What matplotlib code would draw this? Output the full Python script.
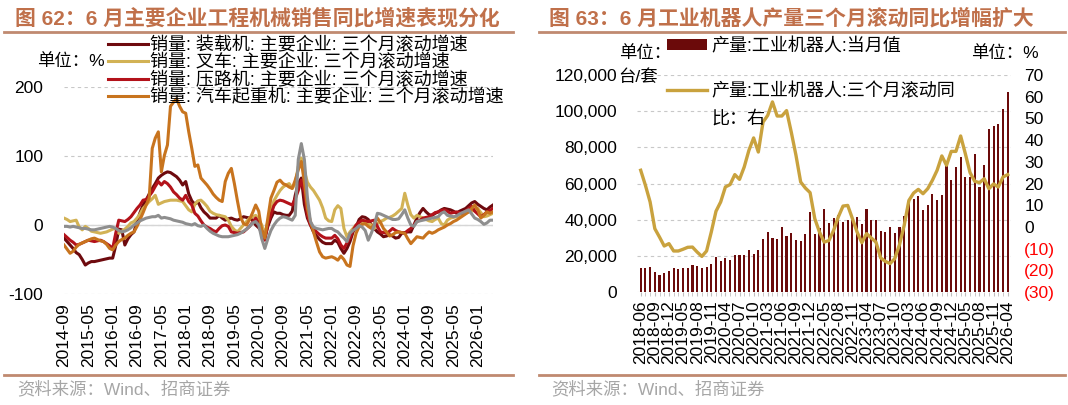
import matplotlib
matplotlib.use('Agg')
import matplotlib.pyplot as plt
from matplotlib.lines import Line2D
from matplotlib.ticker import FixedLocator

plt.rcParams['font.family'] = ['Liberation Sans', 'Noto Sans CJK SC', 'DejaVu Sans']
plt.rcParams['axes.unicode_minus'] = False

# ---------------- data: left chart (monthly, 2014-09 .. 2026-06) ----------------
left_dates = [f'{2014 + (8 + i) // 12}-{(8 + i) % 12 + 1:02d}' for i in range(142)]

loader = [-19, -24, -29, -34, -40, -43, -50, -58, -55, -53,
          -53, -52, -51, -50, -49, -48, -48, -30, -6, -7,
          -29, -20, -14, -10, 5, 18, 29, 36, 45, 53,
          60, 68, 72, 75, 77, 76, 73, 70, 65, 58,
          63, 45, 35, 30, 34, 25, 19, 15, 10, 10,
          10, 14, 10, 7, 9, 10, 8, 7, 9, 12,
          11, 10, 7, 0, -4, -10, -19, -2, 10, 19,
          17, 17, 15, 14, 14, 20, 43, 60, 68, 30,
          10, 0, -10, -16, -21, -25, -27, -27, -27, -22,
          -25, -34, -41, -34, -24, -10, -3, 8, 12, 11,
          8, 0, -5, -10, -13, -17, -16, -14, -16, -19,
          -18, -12, -11, -10, -10, 0, 10, 18, 24, 19,
          15, 14, 17, 19, 22, 24, 23, 22, 20, 17,
          20, 22, 24, 28, 32, 34, 30, 27, 24, 22,
          26, 29]

forklift = [10, 8, 5, 6, 7, -3, -7, -2, -5, -9,
            -10, -11, -12, -11, -10, -8, -6, -5, -12, -9,
            -6, -2, 3, 5, 10, 16, 24, 29, 34, 38,
            43, 30, 32, 34, 35, 36, 36, 36, 35, 34,
            28, 22, 19, 30, 35, 36, 32, 27, 20, 17,
            15, 14, 13, 12, 7, -2, -7, -10, -5, 0,
            5, 10, 12, 14, 8, 0, -14, 5, 19, 35,
            43, 50, 55, 58, 60, 53, 60, 85, 97, 78,
            62, 55, 50, 43, 36, 25, 10, 6, 5, 22,
            28, 24, -5, -17, -10, -5, 0, 2, 4, 5,
            2, 0, -5, 2, 5, 7, 10, 11, 13, 16,
            20, 24, 46, 29, 15, 10, 14, 12, 10, 8,
            6, 5, 8, 10, 2, 0, 7, 10, 11, 12,
            13, 14, 17, 19, 20, 22, 24, 18, 12, 13,
            15, 17]

roller = [-14, -18, -22, -25, -29, -28, -26, -24, -22, -23,
          -24, -23, -22, -24, -27, -30, -34, -12, 7, 6,
          5, 8, 12, 18, 24, 29, 36, 37, 42, 48,
          56, 63, 58, 63, 60, 55, 48, 44, 39, 36,
          43, 34, 29, 17, 13, 6, 0, -3, -5, -8,
          -10, -5, -1, 0, -2, -10, -11, -12, -11, -10,
          -6, -2, 4, 10, 3, -8, -22, 2, 15, 28,
          34, 36, 35, 33, 31, 29, 38, 50, 65, 48,
          15, 0, -5, -10, -14, -17, -19, -19, -19, -15,
          -20, -29, -34, -26, -19, -8, 0, 4, 7, 6,
          5, 6, 7, -2, -10, -11, -12, -9, -5, -8,
          -10, -11, -12, -8, -5, 0, 5, 7, 10, 11,
          12, 15, 18, 19, 21, 22, 20, 17, 18, 19,
          18, 17, 20, 24, 27, 20, 16, 12, 15, 19,
          21, 24]

crane = [-29, -35, -41, -38, -32, -28, -26, -24, -22, -20,
         -19, -21, -23, -24, -28, -34, -36, -29, -24, -21,
         -19, -15, -12, -10, -2, 8, 18, 29, 39, 111,
         126, 135, 77, 101, 116, 172, 178, 183, 172, 164,
         162, 135, 111, 85, 87, 68, 63, 58, 52, 45,
         40, 36, 34, 63, 75, 82, 60, 35, 12, 2,
         0, 8, 18, 29, 20, -8, -19, 10, 39, 50,
         62, 65, 60, 58, 55, 53, 65, 80, 92, 62,
         24, 5, -10, -25, -39, -46, -48, -47, -46, -48,
         -51, -45, -50, -58, -60, -30, -12, -2, 1, 2,
         -2, -5, 2, 10, 4, -5, -10, -16, -14, -11,
         -10, -11, -12, -20, -27, -22, -17, -18, -19, -14,
         -10, -12, -10, -7, -5, -3, 0, 2, 5, 7,
         10, 13, 16, 19, 24, 29, 22, 10, 14, 19,
         17, 19]

other = [-2, -2, -3, -2, -3, -4, -5, -5, -6, -7,
         -7, -6, -5, -4, -3, -2, -3, -5, -8, -10,
         -9, -7, -4, 0, 3, 6, 8, 10, 11, 12,
         12, 14, 10, 11, 10, 9, 7, 6, 5, 4,
         2, 1, 0, 2, -1, -2, 0, -5, -9, -12,
         -14, -16, -17, -17, -17, -16, -15, -14, -12, -9,
         -6, -2, 3, 5, 0, -20, -34, -20, -8, 0,
         6, 10, 12, 11, 9, 7, 14, 95, 118, 95,
         40, 5, -3, -5, -6, -7, -6, -5, -5, -8,
         -10, -15, -19, -24, -12, -8, -5, -1, -3, -8,
         -22, -12, 0, 17, 16, 14, 12, 10, 8, 8,
         9, 15, 22, 10, 0, -2, 5, 6, 7, 8,
         9, 10, 11, 12, 17, 19, 14, 13, 12, 13,
         16, 18, 20, 22, 16, 10, 8, 5, 1, 3,
         7, 7]

left_labels = ['销量: 装载机: 主要企业: 三个月滚动增速',
               '销量: 叉车: 主要企业: 三个月滚动增速',
               '销量: 压路机: 主要企业: 三个月滚动增速',
               '销量: 汽车起重机: 主要企业: 三个月滚动增速']
left_yticks = [-100, 0, 100, 200]

# ---------------- data: right chart (Mar-Dec each year, 2018-06 .. 2026-04) ----------------
right_dates = ([f'2018-{m:02d}' for m in range(6, 13)] +
               [f'{y}-{m:02d}' for y in range(2019, 2026) for m in range(3, 13)] +
               ['2026-03', '2026-04'])

robot_output = [13.5, 13.3, 13.6, 11.1, 9.2, 10.7, 11.6,
                13.3, 12.7, 13.1, 13.3, 15.1, 14.2, 13.3, 14.0, 15.7, 19.5,
                17.0, 18.8, 17.5, 20.6, 20.6, 20.3, 23.0, 21.2, 23.4, 29.3,
                33.0, 29.9, 29.5, 35.9, 31.0, 32.4, 28.6, 28.2, 32.1, 44.0,
                32.3, 35.5, 46.1, 38.1, 40.9, 42.4, 38.7, 40.0, 40.0, 41.5,
                37.8, 46.1, 39.6, 39.6, 33.7, 33.2, 35.9, 32.8, 35.9, 41.8,
                50.3, 51.6, 52.9, 45.1, 47.9, 54.0, 50.7, 53.4, 71.5, 61.7,
                69.0, 74.6, 63.6, 63.6, 76.5, 58.0, 70.0, 90.3, 91.6, 93.0,
                101.0, 110.6]  # thousand units

robot_yoy3m = [26.1, 19.2, 11.5, -0.8, -4.7, -8.8, -7.7,
               -11.1, -11.1, -10.3, -9.4, -9.3, -11.6, -13.6, -11.1, -2.4, 7.2,
               11.5, 18.4, 19.5, 24.1, 21.9, 27.6, 35.3, 41.0, 34.5, 48.3,
               51.4, 57.6, 51.1, 51.1, 53.6, 43.7, 33.0, 20.7, 17.9, 15.8,
               3.8, -2.4, -7.0, -6.3, -1.6, 4.6, 9.6, 9.9, 3.8, -2.4,
               -7.3, -3.1, -5.1, -7.0, -14.3, -15.9, -16.9, -14.6, -8.2, 0.7,
               12.2, 15.6, 17.3, 15.3, 17.6, 21.5, 26.1, 32.7, 28.4, 34.8,
               34.8, 41.9, 33.7, 25.0, 21.0, 20.4, 22.2, 17.6, 19.8, 18.4,
               23.0, 24.1]

right_label_bar = '产量:工业机器人:当月值'
right_label_line = '产量:工业机器人:三个月滚动同'
left_axis_ticks = [0, 20000, 40000, 60000, 80000, 100000, 120000]
right_axis_ticks = [-30, -20, -10, 0, 10, 20, 30, 40, 50, 60, 70]

# ---------------- styling ----------------
W, H = 1068, 405
fig = plt.figure(figsize=(W / 100, H / 100), dpi=100)


def fx(px):
    return px / W


def fy(py):
    return 1 - py / H


title_c = '#C0704A'
rule_c = '#C08A70'
grid_c = '#C8C8C8'
src_c = '#A6A6A6'
c_loader = '#6E0A0E'
c_fork = '#D2B255'
c_roller = '#B3121A'
c_crane = '#C8741E'
c_other = '#8E8E8E'
c_bar = '#6B0A0A'
c_line = '#C9A23E'
TICK_FS = 12.5

# titles & rules
fig.text(fx(15), fy(18), '图 62：6 月主要企业工程机械销售同比增速表现分化', color=title_c,
         fontsize=15, fontweight='bold', va='center', ha='left')
fig.text(fx(549), fy(18), '图 63：6 月工业机器人产量三个月滚动同比增幅扩大', color=title_c,
         fontsize=15, fontweight='bold', va='center', ha='left')
for x0, x1 in [(4, 513), (539, 1065)]:
    fig.add_artist(Line2D([fx(x0), fx(x1)], [fy(32), fy(32)], transform=fig.transFigure,
                          color=rule_c, lw=2))
    fig.add_artist(Line2D([fx(x0), fx(x1)], [fy(375), fy(375)], transform=fig.transFigure,
                          color=rule_c, lw=2))
fig.text(fx(17), fy(389), '资料来源：Wind、招商证券', color=src_c, fontsize=12.5, va='center')
fig.text(fx(551), fy(389), '资料来源：Wind、招商证券', color=src_c, fontsize=12.5, va='center')

# ---------------- left chart ----------------
ax1 = fig.add_axes([fx(64), fy(294), fx(493) - fx(64), (294 - 87) / H])
xs = list(range(len(left_dates)))
ax1.axhline(0, color='#D6D6D6', lw=1.0, zorder=1)
l1, = ax1.plot(xs, loader, color=c_loader, lw=2.2, zorder=3)
l2, = ax1.plot(xs, forklift, color=c_fork, lw=2.2, zorder=3)
l3, = ax1.plot(xs, roller, color=c_roller, lw=2.2, zorder=3)
l4, = ax1.plot(xs, crane, color=c_crane, lw=2.2, zorder=3)
ax1.plot(xs, other, color=c_other, lw=2.2, zorder=4)
ax1.set_xlim(0, len(left_dates) - 1)
ax1.set_ylim(-100, 200)
ax1.set_yticks(left_yticks)
ax1.set_yticklabels([str(v) for v in left_yticks])
ticks = list(range(0, len(left_dates), 8))
ax1.set_xticks(ticks)
ax1.set_xticklabels([left_dates[i] for i in ticks], rotation=90)
ax1.tick_params(axis='x', length=0, pad=6.5, labelsize=TICK_FS)
ax1.tick_params(axis='y', length=0, pad=15, labelsize=TICK_FS)
for t in ax1.get_xticklabels():
    t.set_va('top')
ax1.grid(axis='y', color=grid_c, linestyle=(0, (3, 3)), linewidth=0.8)
ax1.set_axisbelow(True)
for s in ax1.spines.values():
    s.set_visible(False)
ax1.legend([l1, l2, l3, l4], left_labels, loc='upper left',
           bbox_to_anchor=(fx(108), fy(37)), bbox_transform=fig.transFigure,
           frameon=False, fontsize=13, handlelength=2.2, handletextpad=0.15,
           labelspacing=0.0, borderpad=0, borderaxespad=0)
fig.text(fx(37), fy(61), '单位：%', fontsize=12.5, va='center', ha='left')

# ---------------- right chart ----------------
ax2 = fig.add_axes([fx(637.4), fy(292), fx(1011.0) - fx(637.4), 217 / H])
xr = list(range(len(right_dates)))
bars = ax2.bar(xr, [v * 1000 for v in robot_output], width=0.45, color=c_bar, zorder=2)
ax2.set_xlim(-0.7, len(right_dates) - 0.3)
ax2.set_ylim(0, 120000)
ax2.yaxis.set_major_locator(FixedLocator(left_axis_ticks))
ax2.set_yticklabels([f'{v:,}' for v in left_axis_ticks])
rt = list(range(0, len(right_dates), 3))
ax2.set_xticks(rt)
ax2.set_xticklabels([right_dates[i] for i in rt], rotation=90)
ax2.set_xticks(xr, minor=True)
ax2.tick_params(axis='x', which='both', length=3, color='#BFBFBF', pad=3, labelsize=TICK_FS)
ax2.tick_params(axis='y', length=0, pad=14.5, labelsize=TICK_FS)
ax2.grid(axis='y', color=grid_c, linestyle=(0, (3, 3)), linewidth=0.8)
ax2.set_axisbelow(True)
for s in ax2.spines.values():
    s.set_visible(False)

ax3 = ax2.twinx()
ln, = ax3.plot(xr, robot_yoy3m, color=c_line, lw=2.4, zorder=5)
ax3.set_ylim(-30, 70)
ax3.yaxis.set_major_locator(FixedLocator(right_axis_ticks))
ax3.set_yticklabels([f'({-v})' if v < 0 else str(v) for v in right_axis_ticks])
for v, t in zip(right_axis_ticks, ax3.get_yticklabels()):
    if v < 0:
        t.set_color('#FF0000')
ax3.tick_params(axis='y', length=0, pad=9.5, labelsize=TICK_FS)
for s in ax3.spines.values():
    s.set_visible(False)

leg_a = ax3.legend([bars], [right_label_bar], loc='upper left',
                   bbox_to_anchor=(fx(667), fy(38)), bbox_transform=fig.transFigure,
                   frameon=False, fontsize=13, handlelength=2.2, handleheight=0.55,
                   handletextpad=0.25, borderpad=0, borderaxespad=0)
ax3.add_artist(leg_a)
ax3.legend([ln], [right_label_line], loc='upper left',
           bbox_to_anchor=(fx(667), fy(83)), bbox_transform=fig.transFigure,
           frameon=False, fontsize=13, handlelength=2.2, handletextpad=0.25,
           borderpad=0, borderaxespad=0)
fig.text(fx(711), fy(119), '比：右', fontsize=13, va='center', ha='left')
fig.text(fx(619), fy(53), '单位：', fontsize=12.5, va='center', ha='left')
fig.text(fx(618), fy(77), '台/套', fontsize=12.5, va='center', ha='left')
fig.text(fx(971), fy(53), '单位：%', fontsize=12.5, va='center', ha='left')

fig.savefig('out.png', dpi=100)
